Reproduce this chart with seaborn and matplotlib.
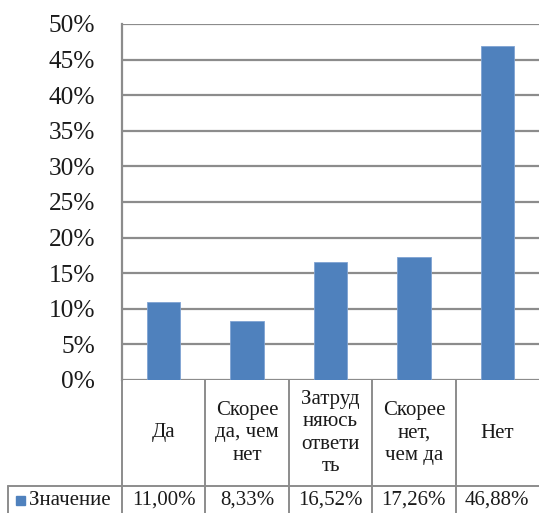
import matplotlib
matplotlib.use("Agg")
import matplotlib.pyplot as plt
from matplotlib.lines import Line2D
from matplotlib.patches import Rectangle
import seaborn as sns
import pandas as pd

categories = ["Да", "Скорее да, чем нет", "Затрудняюсь ответить", "Скорее нет, чем да", "Нет"]
header_labels = ["Да", "Скорее\nда, чем\nнет", "Затруд\nняюсь\nответи\nть", "Скорее\nнет,\nчем да", "Нет"]
values = [11.00, 8.33, 16.52, 17.26, 46.88]
series_name = "Значение"
y_ticks = [0, 5, 10, 15, 20, 25, 30, 35, 40, 45, 50]

BAR = "#4F81BD"
GRID = "#8C8C8C"

sns.set_style("white")
plt.rcParams["font.family"] = "serif"
plt.rcParams["font.serif"] = ["Liberation Serif", "DejaVu Serif"]

W, H = 539, 513
fig = plt.figure(figsize=(W / 100, H / 100), dpi=100)

left_px, right_px, top_px, bottom_px = 122, 539, 24, 380
ax = fig.add_axes([left_px / W, 1 - bottom_px / H,
                   (right_px - left_px) / W, (bottom_px - top_px) / H])

df = pd.DataFrame({"cat": categories, "val": values})
sns.barplot(data=df, x="cat", y="val", color=BAR, saturation=1, width=0.4,
            ax=ax, zorder=3, edgecolor="#7FA3D3", linewidth=0.6)

ax.set_ylim(0, 50)
ax.set_xlim(-0.5, len(categories) - 0.5)
ax.set_yticks(y_ticks)
ax.set_yticklabels([f"{t}%" for t in y_ticks], fontsize=18.3, color="#1a1a1a")
ax.tick_params(axis="y", length=0, pad=19.5)
ax.set_xticks([])
ax.set_xlabel("")
ax.set_ylabel("")
for t in y_ticks:
    ax.axhline(t, color=GRID, lw=1.6, zorder=1)
for s in ["top", "right", "bottom"]:
    ax.spines[s].set_visible(False)
ax.spines["left"].set_color(GRID)
ax.spines["left"].set_linewidth(1.6)

# data table under the plot, in pixel-based figure coordinates
def fx(px):
    return px / W

def fy(py):
    return 1 - py / H

row_sep = 486
table_left = 8
col_w = (right_px - left_px) / len(categories)
lw = 1.4

def line(x0, y0, x1, y1):
    fig.add_artist(Line2D([fx(x0), fx(x1)], [fy(y0), fy(y1)], color=GRID, lw=lw))

for i in range(len(categories)):
    x = left_px + i * col_w
    line(x, bottom_px, x, H)
line(table_left, row_sep, W, row_sep)
line(table_left, row_sep, table_left, H)

for i, (lab, v) in enumerate(zip(header_labels, values)):
    cx = left_px + (i + 0.5) * col_w
    fig.text(fx(cx), fy((bottom_px + row_sep) / 2), lab, ha="center", va="center",
             fontsize=15, linespacing=1.22, color="#1a1a1a")
    fig.text(fx(cx), fy((row_sep + H) / 2 + 1), f"{v:.2f}%".replace(".", ","),
             ha="center", va="center", fontsize=15, color="#1a1a1a")

fig.add_artist(Rectangle((fx(16), fy(505)), 9 / W, 9 / H, color=BAR,
                         transform=fig.transFigure))
fig.text(fx(29), fy((row_sep + H) / 2 + 1), series_name, ha="left", va="center",
         fontsize=15, color="#1a1a1a")

fig.savefig("out.png", dpi=100, facecolor="white")
